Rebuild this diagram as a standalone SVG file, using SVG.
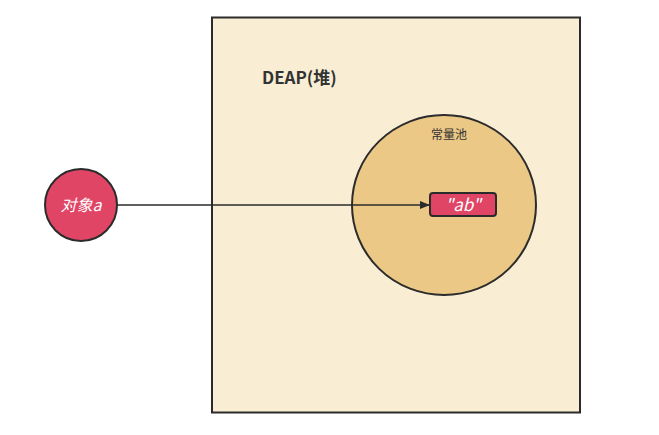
<svg xmlns="http://www.w3.org/2000/svg" width="659" height="435" viewBox="0 0 659 435">
<style>
.stroke{stroke:#2b2b2b;stroke-width:2}
.lbl{font-family:"Noto Sans CJK SC","Noto Sans",sans-serif}
.red{fill:#e04566}
</style>
<defs>
<marker id="arr" markerWidth="10" markerHeight="8" refX="9" refY="4" orient="auto" markerUnits="userSpaceOnUse">
<path d="M0,0 L10,4 L0,8 Z" fill="#2b2b2b"/>
</marker>
</defs>
<rect width="659" height="435" fill="#ffffff"/>
<g id="heap">
<rect x="212" y="17.5" width="368" height="395" fill="#f9eed4" class="stroke"/>
<text x="262" y="84" class="lbl" font-size="17" font-weight="bold" fill="#333">DEAP(堆)</text>
</g>
<g id="pool">
<ellipse cx="444" cy="205" rx="92" ry="90" fill="#ebc886" class="stroke"/>
<text x="449" y="139" class="lbl" font-size="12" fill="#333" text-anchor="middle">常量池</text>
</g>
<g id="objA">
<circle cx="81" cy="205" r="36" class="red stroke"/>
<text x="81" y="211" class="lbl" font-size="16" font-style="italic" fill="#fff" text-anchor="middle">对象a</text>
</g>
<g id="ab">
<rect x="430" y="193" width="66" height="23" rx="3" class="red stroke"/>
<text x="463" y="211" class="lbl" font-size="17" font-style="italic" fill="#fff" text-anchor="middle">"ab"</text>
</g>
<g id="connectors">
<line x1="117" y1="205" x2="429" y2="205" stroke="#2b2b2b" stroke-width="1.5" marker-end="url(#arr)"/>
</g>
</svg>
